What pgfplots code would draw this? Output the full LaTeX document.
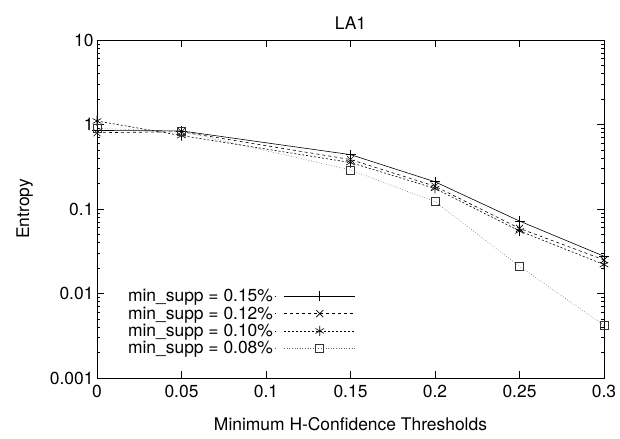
\documentclass[border=0pt]{standalone}
\usepackage{pgfplots}
\pgfplotsset{compat=1.18}
\usepackage{fontspec}
\setmainfont{TeX Gyre Heros}
\begin{document}
\begin{tikzpicture}
\begin{semilogyaxis}[
  scale only axis,
  width=507bp, height=338bp,
  xmin=0, xmax=0.3, ymin=0.001, ymax=10,
  xtick={0,0.05,0.1,0.15,0.2,0.25,0.3},
  xticklabels={0,0.05,0.1,0.15,0.2,0.25,0.3},
  ytick={0.001,0.01,0.1,1,10},
  yticklabels={0.001,0.01,0.1,1,10},
  tick align=inside,
  major tick length=7bp, minor tick length=3.5bp,
  tick style={black, line width=0.6pt},
  axis line style={line width=0.8pt},
  font=\fontsize{17.5}{20}\selectfont,
  tick label style={font=\fontsize{17.5}{20}\selectfont},
  xticklabel style={yshift=-4bp},
  title={LA1},
  title style={font=\fontsize{17.5}{20}\selectfont, yshift=1bp},
  xlabel={Minimum H-Confidence Thresholds},
  ylabel={Entropy},
  xlabel style={yshift=-12bp},
  ylabel style={yshift=10bp},
  legend cell align=right,
  legend plot pos=right,
  legend style={draw=none, fill=none, at={(0.055,0.058)}, anchor=south west,
    font=\fontsize{17.5}{20}\selectfont, row sep=-0.5bp, inner sep=1bp},
  legend image code/.code={
    \path (0bp,0bp) -- (1bp,0bp);
    \draw[#1] (9bp,0bp) -- (80bp,0bp);
    \draw[#1, solid] plot coordinates {(44.5bp,0bp)};
  },
]
\addplot[black, solid, line width=0.6pt, mark=+, mark size=5bp, mark options={solid}]
  coordinates {(0,0.85) (0.05,0.84) (0.15,0.44) (0.2,0.21) (0.25,0.072) (0.3,0.0276)};
\addlegendentry{min\_supp = 0.15\%}
\addplot[black, dashed, line width=0.6pt, mark=x, mark size=5bp, mark options={solid}]
  coordinates {(0,0.80) (0.05,0.82) (0.15,0.385) (0.2,0.186) (0.25,0.059) (0.3,0.025)};
\addlegendentry{min\_supp = 0.12\%}
\addplot[black, dash pattern=on 2bp off 2bp, line width=0.6pt, mark=asterisk, mark size=5bp, mark options={solid}]
  coordinates {(0,1.1) (0.05,0.74) (0.15,0.355) (0.2,0.175) (0.25,0.055) (0.3,0.022)};
\addlegendentry{min\_supp = 0.10\%}
\addplot[black!60, dotted, line width=0.6pt, mark=square, mark size=4bp, mark options={solid, black!80}]
  coordinates {(0,0.9) (0.05,0.83) (0.15,0.29) (0.2,0.122) (0.25,0.021) (0.3,0.0042)};
\addlegendentry{min\_supp = 0.08\%}
\end{semilogyaxis}
\path[use as bounding box] (current axis.south west) ++(-97bp,-61bp) rectangle ([shift={(16bp,40bp)}]current axis.north east);
\end{tikzpicture}
\end{document}
